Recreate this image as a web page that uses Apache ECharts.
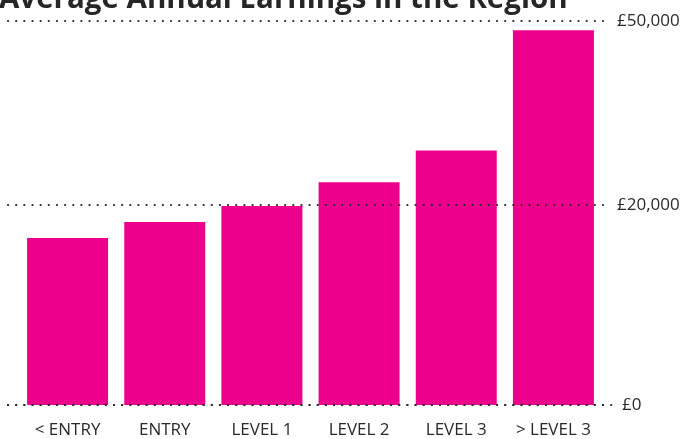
<!DOCTYPE html>
<html>
<head>
<meta charset="utf-8">
<script src="https://cdn.jsdelivr.net/npm/echarts@6/dist/echarts.min.js"></script>
<style>
html,body{margin:0;padding:0;background:#fff;}
#chart{width:686px;height:439px;}
</style>
</head>
<body>
<div id="chart"></div>
<script>
// ---- data ----
const titleText = 'Average Annual Earnings in the Region';
const categories = ['< ENTRY', 'ENTRY', 'LEVEL 1', 'LEVEL 2', 'LEVEL 3', '> LEVEL 3'];
const earnings = [16700, 18300, 19900, 23700, 28900, 48500];
const tickValues = [0, 20000, 50000];
const tickLabels = ['£0', '£20,000', '£50,000'];
// the reference axis is uneven: each tick value sits at this axis position
const tickPositions = [0, 20000, 38400];

// piecewise-linear map from earnings value to the uneven axis
function toAxis(v) {
  for (let i = 1; i < tickValues.length; i++) {
    if (v <= tickValues[i] || i === tickValues.length - 1) {
      const a = tickValues[i - 1], b = tickValues[i];
      const pa = tickPositions[i - 1], pb = tickPositions[i];
      return pa + (v - a) / (b - a) * (pb - pa);
    }
  }
  return v;
}
function labelFor(pos) {
  for (let i = 0; i < tickPositions.length; i++) {
    if (Math.abs(tickPositions[i] - pos) < 1) return tickLabels[i];
  }
  return '';
}

const FONT = '"Open Sans", "Noto Sans", sans-serif';
const axisMax = tickPositions[tickPositions.length - 1];
const dotted = { color: '#2a2a2a', width: 2.2, type: [0.1, 8.05], cap: 'round' };

const chart = echarts.init(document.getElementById('chart'), null, { renderer: 'canvas' });
chart.setOption({
  animation: false,
  backgroundColor: '#ffffff',
  title: {
    text: titleText,
    left: -1, top: -15, padding: 0,
    textStyle: { fontFamily: FONT, fontSize: 29.5, fontWeight: 'bold', color: '#262626' }
  },
  grid: [
    { left: 19, right: 84, top: 21, bottom: 34 },   // bars
    { left: 8, right: 81, top: 21, bottom: 34 },    // dotted grid lines + labels
    { left: 8, right: 73, top: 21, bottom: 34 }     // bottom dotted line
  ],
  xAxis: [
    {
      type: 'category', gridIndex: 0, data: categories,
      axisLine: { show: false }, axisTick: { show: false },
      axisLabel: { interval: 0, hideOverlap: false, margin: 17, fontFamily: FONT, fontSize: 17, color: '#2a2a2a' }
    },
    { type: 'value', gridIndex: 1, show: false, min: 0, max: 1 },
    {
      type: 'value', gridIndex: 2, min: 0, max: 1, z: 5,
      axisLine: { show: true, lineStyle: dotted },
      axisTick: { show: false }, axisLabel: { show: false }, splitLine: { show: false }
    }
  ],
  yAxis: [
    { type: 'value', gridIndex: 0, min: 0, max: axisMax, show: false },
    {
      type: 'value', gridIndex: 1, position: 'right', min: 0, max: axisMax,
      interval: tickPositions[1], z: 5,
      axisLine: { show: false }, axisTick: { show: false },
      splitLine: { show: true, lineStyle: dotted },
      axisLabel: {
        margin: 12, fontFamily: FONT, fontSize: 17, color: '#2a2a2a',
        formatter: function (v) { return v === 0 ? '{z|' + labelFor(v) + '}' : labelFor(v); },
        rich: { z: { fontFamily: FONT, fontSize: 17, color: '#2a2a2a', padding: [0, 0, 0, 5] } }
      }
    },
    { type: 'value', gridIndex: 2, min: 0, max: axisMax, show: false }
  ],
  series: [
    {
      type: 'bar', xAxisIndex: 0, yAxisIndex: 0, z: 2,
      data: earnings.map(toAxis),
      barWidth: 81,
      itemStyle: { color: '#EC008C' }
    }
  ]
});
</script>
</body>
</html>
